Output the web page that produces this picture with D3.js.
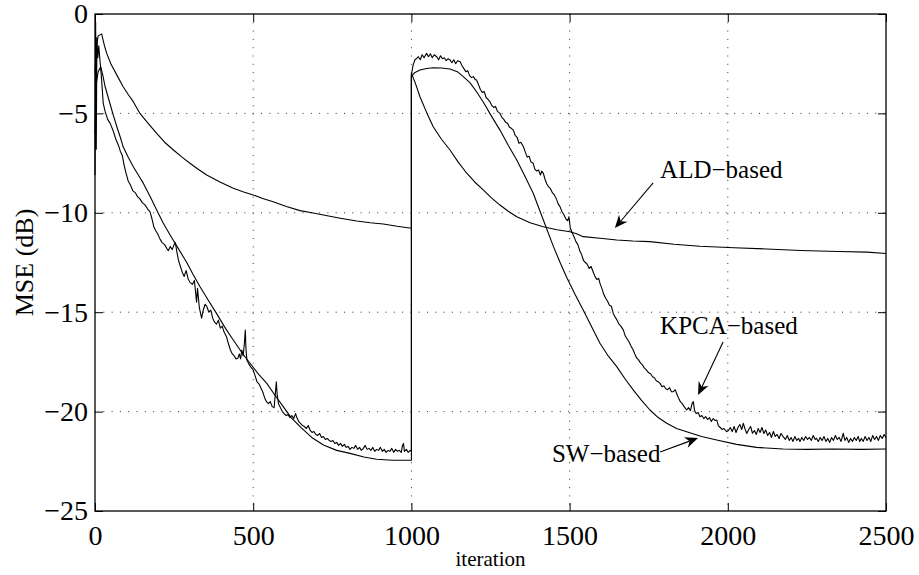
<!DOCTYPE html>
<html><head><meta charset="utf-8">
<script src="https://cdn.jsdelivr.net/npm/d3@7"></script>
<style>body{margin:0;background:#fff}svg{display:block}</style>
</head><body>
<svg id="c" width="919" height="575"></svg>
<script>
const xTicks = [0, 500, 1000, 1500, 2000, 2500];
const yTicks = [0, -5, -10, -15, -20, -25];
const xLabel = "iteration";
const yLabel = "MSE (dB)";

const ald = [[0,-3.0],[5,-1.6],[10,-1.1],[21,-1.0],[30,-1.6],[37,-1.98],[50,-2.5],[70,-3.1],[89,-3.66],[105,-4.05],[121,-4.41],[142,-5.0],[168,-5.5],[195,-6.0],[220,-6.45],[248,-6.84],[275,-7.2],[300,-7.51],[325,-7.8],[353,-8.1],[395,-8.45],[437,-8.77],[470,-8.95],[500,-9.1],[530,-9.28],[563,-9.44],[605,-9.68],[648,-9.89],[685,-10.0],[722,-10.11],[775,-10.27],[827,-10.41],[870,-10.5],[911,-10.56],[955,-10.68],[1000,-10.78],
[1000,-2.98],[1013,-3.5],[1027,-4.16],[1048,-4.95],[1069,-5.67],[1095,-6.3],[1122,-6.84],[1148,-7.45],[1175,-8.01],[1200,-8.45],[1227,-8.85],[1253,-9.25],[1280,-9.61],[1306,-9.92],[1333,-10.2],[1375,-10.5],[1417,-10.7],[1460,-10.85],[1501,-10.95],[1522,-11.05],[1543,-11.2],[1596,-11.28],[1649,-11.37],[1700,-11.42],[1754,-11.45],[1830,-11.58],[1912,-11.68],[2020,-11.76],[2123,-11.82],[2230,-11.9],[2350,-11.95],[2440,-11.98],[2500,-12.05]];

const sw = [[0,-6.0],[4,-3.5],[10,-2.9],[18,-2.65],[25,-3.1],[32,-3.66],[40,-4.1],[47,-4.49],[58,-5.1],[69,-5.67],[80,-6.2],[89,-6.68],[105,-7.2],[121,-7.68],[137,-8.1],[153,-8.52],[175,-9.2],[195,-9.86],[215,-10.5],[237,-11.1],[263,-11.79],[290,-12.5],[310,-13.1],[332,-13.72],[358,-14.4],[384,-15.06],[410,-15.75],[437,-16.4],[463,-17.0],[490,-17.57],[516,-18.1],[543,-18.58],[570,-19.2],[595,-19.75],[620,-20.3],[648,-20.76],[685,-21.3],[722,-21.68],[764,-21.95],[806,-22.1],[850,-22.28],[890,-22.4],[940,-22.45],[1000,-22.45],
[1000,-3.15],[1010,-2.95],[1027,-2.82],[1048,-2.74],[1069,-2.7],[1095,-2.72],[1122,-2.77],[1145,-2.9],[1164,-3.15],[1185,-3.45],[1206,-3.91],[1228,-4.45],[1248,-5.0],[1265,-5.45],[1280,-5.84],[1306,-6.6],[1333,-7.34],[1360,-8.2],[1385,-9.02],[1417,-10.36],[1449,-11.7],[1470,-12.5],[1491,-13.25],[1517,-14.1],[1543,-14.89],[1570,-15.75],[1596,-16.56],[1622,-17.2],[1649,-17.74],[1675,-18.35],[1701,-18.91],[1728,-19.45],[1754,-19.92],[1780,-20.3],[1807,-20.59],[1838,-20.85],[1870,-21.01],[1917,-21.25],[1965,-21.43],[2028,-21.65],[2091,-21.8],[2175,-21.88],[2250,-21.9],[2333,-21.88],[2420,-21.9],[2500,-21.88]];

const kpca = [[0,-8.1],[2,-0.4],[4,-6.8],[6,-1.2],[9,-2.2],[12,-1.6],[16,-2.4],[20,-3.1],[26,-4.5],[32,-4.9],[40,-5.3],[48,-5.5],[58,-5.9],[66,-6.3],[74,-6.6],[80,-6.9],[86,-7.1],[92,-7.6],[98,-8.0],[105,-8.4],[112,-8.6],[120,-8.9],[128,-9.0],[135,-9.2],[142,-9.3],[150,-9.5],[158,-9.6],[166,-9.8],[174,-9.95],[180,-10.3],[186,-10.7],[192,-10.9],[198,-11.05],[205,-11.3],[212,-11.5],[220,-11.6],[227,-11.8],[232,-11.9],[238,-11.7],[244,-11.85],[250,-11.6],[254,-11.5],[258,-11.9],[264,-12.4],[270,-12.7],[276,-13.0],[282,-13.2],[288,-12.9],[294,-13.3],[300,-13.5],[308,-13.6],[314,-13.4],[318,-14.0],[321,-14.5],[324,-13.8],[330,-14.8],[337,-15.3],[342,-14.9],[348,-14.6],[353,-14.7],[360,-15.0],[366,-14.9],[372,-15.3],[378,-15.5],[384,-15.6],[390,-15.4],[396,-15.8],[402,-15.7],[408,-16.0],[416,-16.25],[422,-16.6],[428,-16.9],[434,-17.1],[440,-17.2],[446,-17.35],[452,-17.3],[456,-17.1],[460,-17.35],[464,-16.9],[468,-17.2],[472,-16.6],[475,-15.9],[477,-16.8],[480,-17.4],[486,-17.6],[492,-17.75],[500,-17.9],[506,-18.2],[512,-18.5],[518,-18.6],[524,-18.8],[530,-19.0],[536,-19.3],[542,-19.5],[548,-19.6],[554,-19.5],[560,-19.75],[566,-19.8],[570,-19.1],[573,-18.5],[576,-19.2],[580,-19.6],[586,-19.8],[592,-20.0],[598,-20.1],[604,-20.2],[610,-20.15],[616,-20.3],[622,-20.2],[628,-20.35],[634,-20.1],[638,-20.3],[644,-20.5],[650,-20.6],[656,-20.7],[662,-20.75],[668,-20.85],[674,-20.7],[680,-20.95],[686,-21.05],[692,-21.0],[698,-21.15],[704,-21.2],[710,-21.1],[716,-21.3],[722,-21.25],[728,-21.4],[734,-21.35],[740,-21.45],[746,-21.5],[752,-21.45],[758,-21.6],[764,-21.55],[770,-21.7],[776,-21.6],[782,-21.75],[788,-21.65],[794,-21.8],[800,-21.75],[806,-21.9],[812,-21.8],[818,-21.85],[824,-21.7],[830,-21.9],[836,-21.8],[842,-21.95],[848,-21.85],[854,-21.7],[860,-21.9],[866,-21.85],[872,-21.95],[878,-21.8],[884,-22.0],[890,-21.9],[896,-21.95],[902,-21.8],[908,-22.0],[914,-21.9],[920,-22.05],[926,-21.95],[932,-22.0],[938,-21.85],[944,-22.05],[950,-21.9],[956,-22.0],[962,-21.95],[968,-22.05],[972,-21.7],[975,-21.6],[978,-22.0],[984,-21.9],[990,-22.05],[996,-21.95],[1000,-22.0],
[1000,-3.07],[1005,-2.6],[1011,-2.3],[1016,-2.25],[1022,-2.15],[1028,-2.3],[1034,-2.05],[1040,-2.2],[1048,-1.98],[1054,-2.15],[1060,-2.0],[1066,-2.2],[1072,-2.05],[1080,-2.15],[1086,-2.3],[1092,-2.1],[1098,-2.25],[1104,-2.2],[1110,-2.35],[1116,-2.25],[1122,-2.31],[1128,-2.45],[1134,-2.3],[1140,-2.5],[1146,-2.35],[1154,-2.4],[1160,-2.6],[1166,-2.75],[1172,-2.9],[1178,-2.85],[1184,-3.1],[1190,-3.2],[1196,-3.15],[1202,-3.3],[1206,-3.32],[1212,-3.55],[1218,-3.8],[1224,-3.95],[1230,-3.9],[1236,-4.2],[1242,-4.3],[1248,-4.41],[1254,-4.6],[1260,-4.7],[1266,-4.65],[1272,-4.9],[1280,-5.0],[1286,-5.2],[1292,-5.3],[1298,-5.45],[1304,-5.5],[1310,-5.7],[1316,-5.75],[1322,-5.84],[1328,-6.1],[1334,-6.2],[1340,-6.5],[1346,-6.45],[1354,-6.68],[1360,-6.95],[1366,-7.2],[1372,-7.15],[1378,-7.45],[1385,-7.51],[1390,-7.8],[1396,-7.9],[1402,-7.85],[1408,-8.1],[1412,-7.9],[1417,-8.01],[1422,-8.3],[1428,-8.55],[1434,-8.7],[1440,-8.8],[1446,-9.0],[1452,-9.1],[1458,-9.3],[1464,-9.55],[1470,-9.7],[1476,-9.95],[1482,-10.1],[1488,-10.3],[1494,-10.4],[1498,-10.2],[1502,-10.75],[1508,-11.0],[1514,-11.2],[1520,-11.45],[1526,-11.6],[1533,-11.95],[1538,-12.1],[1544,-12.4],[1550,-12.5],[1556,-12.6],[1562,-12.8],[1568,-12.7],[1574,-12.95],[1580,-13.2],[1586,-13.35],[1592,-13.3],[1596,-13.55],[1602,-13.8],[1608,-14.1],[1614,-14.3],[1620,-14.45],[1626,-14.65],[1632,-14.7],[1638,-15.06],[1644,-15.25],[1650,-15.4],[1656,-15.6],[1662,-15.7],[1670,-15.9],[1676,-16.2],[1682,-16.35],[1688,-16.5],[1694,-16.7],[1701,-16.9],[1706,-17.1],[1712,-17.3],[1718,-17.4],[1724,-17.55],[1730,-17.65],[1736,-17.8],[1743,-17.91],[1750,-18.05],[1756,-18.1],[1762,-18.25],[1768,-18.3],[1774,-18.45],[1780,-18.5],[1786,-18.58],[1792,-18.75],[1798,-18.7],[1804,-18.85],[1810,-18.9],[1816,-18.8],[1822,-19.0],[1828,-19.0],[1834,-18.9],[1838,-19.08],[1844,-19.3],[1850,-19.5],[1856,-19.6],[1862,-19.75],[1870,-19.92],[1876,-19.8],[1882,-19.95],[1887,-19.6],[1891,-19.5],[1895,-19.95],[1900,-20.1],[1906,-20.05],[1912,-20.26],[1918,-20.2],[1924,-20.35],[1930,-20.25],[1936,-20.4],[1942,-20.3],[1948,-20.5],[1954,-20.35],[1960,-20.45],[1965,-20.42],[1970,-20.7],[1976,-20.8],[1982,-20.9],[1988,-20.85],[1996,-21.01],[2002,-20.95],[2008,-20.8],[2014,-21.0],[2020,-20.75],[2026,-21.05],[2032,-20.8],[2038,-20.65],[2044,-20.9],[2049,-20.59],[2054,-20.85],[2060,-21.1],[2066,-20.9],[2072,-20.75],[2078,-21.09],[2084,-20.95],[2090,-21.15],[2096,-20.85],[2102,-21.05],[2108,-20.8],[2114,-21.1],[2120,-20.93],[2126,-21.2],[2132,-21.05],[2138,-21.3],[2144,-21.0],[2150,-21.25],[2156,-21.15],[2162,-21.35],[2168,-21.1],[2175,-21.26],[2182,-21.4],[2188,-21.2],[2194,-21.45],[2200,-21.3],[2206,-21.5],[2212,-21.25],[2218,-21.45],[2224,-21.35],[2228,-21.51],[2234,-21.3],[2240,-21.45],[2246,-21.25],[2252,-21.4],[2258,-21.3],[2264,-21.45],[2270,-21.2],[2276,-21.4],[2280,-21.34],[2286,-21.5],[2292,-21.3],[2298,-21.45],[2304,-21.25],[2310,-21.5],[2316,-21.35],[2322,-21.55],[2328,-21.3],[2334,-21.45],[2340,-21.2],[2346,-21.4],[2352,-21.3],[2358,-21.5],[2365,-21.09],[2370,-21.45],[2376,-21.3],[2382,-21.55],[2388,-21.35],[2394,-21.5],[2400,-21.3],[2406,-21.45],[2412,-21.25],[2417,-21.51],[2422,-21.35],[2428,-21.5],[2434,-21.25],[2440,-21.45],[2446,-21.3],[2452,-21.5],[2458,-21.2],[2464,-21.4],[2470,-21.25],[2476,-21.45],[2482,-21.2],[2488,-21.35],[2494,-21.15],[2500,-21.3]];

// annotations: label, text anchor point [iter, dB], arrow tail, arrow tip
const annLabels = ["ALD\u2212based", "KPCA\u2212based", "SW\u2212based"];
const annText = [[1786,-8.25],[1786,-16.1],[1444,-22.54]];
const annTail = [[1764,-8.5],[1985,-16.5],[1786,-22.03]];
const annTip = [[1643,-10.77],[1906,-19.17],[1906,-21.33]];

const L = 95, R = 886, T = 14, B = 511;
const svg = d3.select("#c");
const x = d3.scaleLinear().domain([0, 2500]).range([L, R]);
const y = d3.scaleLinear().domain([-25, 0]).range([B, T]);
const font = "'Liberation Serif','Times New Roman',serif";

// grid
const g = svg.append("g");
g.selectAll(".vg").data(xTicks.slice(1, -1)).enter().append("line")
  .attr("x1", d => x(d)).attr("x2", d => x(d)).attr("y1", T).attr("y2", B)
  .attr("stroke", "#333").attr("stroke-width", 1).attr("stroke-dasharray", "1,7.3");
g.selectAll(".hg").data(yTicks.slice(1, -1)).enter().append("line")
  .attr("y1", d => y(d)).attr("y2", d => y(d)).attr("x1", L).attr("x2", R)
  .attr("stroke", "#333").attr("stroke-width", 1).attr("stroke-dasharray", "1,7.3");

// axes
const xAxB = d3.axisBottom(x).tickValues(xTicks).tickSize(-8).tickPadding(14).tickFormat(d3.format("d"));
const xAxT = d3.axisTop(x).tickValues(xTicks).tickSize(-8).tickFormat("");
const yAxL = d3.axisLeft(y).tickValues(yTicks).tickSize(-8).tickPadding(7).tickFormat(d => d < 0 ? "\u2212" + Math.abs(d) : d);
const yAxR = d3.axisRight(y).tickValues(yTicks).tickSize(-8).tickFormat("");
function style(sel) {
  sel.selectAll(".domain").remove();
  sel.selectAll(".tick line").attr("stroke", "#000").attr("stroke-width", 1);
  sel.selectAll("text").attr("font-family", font).attr("font-size", 28).attr("fill", "#000");
}
svg.append("g").attr("transform", `translate(0,${B})`).call(xAxB).call(style);
svg.append("g").attr("transform", `translate(0,${T})`).call(xAxT).call(style);
svg.append("g").attr("transform", `translate(${L},0)`).call(yAxL).call(style);
svg.append("g").attr("transform", `translate(${R},0)`).call(yAxR).call(style);

// series
const line = d3.line().x(d => x(d[0])).y(d => y(d[1]));
[ald, sw, kpca].forEach(s => {
  svg.append("path").datum(s).attr("d", line).attr("fill", "none")
    .attr("stroke", "#000").attr("stroke-width", 1.1).attr("stroke-linejoin", "round");
});

// frame
svg.append("rect").attr("x", L).attr("y", T).attr("width", R - L).attr("height", B - T)
  .attr("fill", "none").attr("stroke", "#000").attr("stroke-width", 1.3);

// axis labels
svg.append("text").attr("x", (L + R) / 2).attr("y", 566).attr("text-anchor", "middle")
  .attr("font-family", font).attr("font-size", 21).text(xLabel);
svg.append("text").attr("transform", `translate(33,${(T + B) / 2}) rotate(-90)`).attr("text-anchor", "middle")
  .attr("font-family", font).attr("font-size", 26).text(yLabel);

// annotations
annLabels.forEach((lab, i) => {
  svg.append("text").attr("x", x(annText[i][0])).attr("y", y(annText[i][1]))
    .attr("font-family", font).attr("font-size", 25).text(lab);
  const x0 = x(annTail[i][0]), y0 = y(annTail[i][1]);
  const x1 = x(annTip[i][0]), y1 = y(annTip[i][1]);
  const ang = Math.atan2(y1 - y0, x1 - x0);
  const hl = 13, hw = 5.5, back = 9;
  const bx = x1 - hl * Math.cos(ang), by = y1 - hl * Math.sin(ang);
  const nx = x1 - back * Math.cos(ang), ny = y1 - back * Math.sin(ang);
  const px = -Math.sin(ang), py = Math.cos(ang);
  svg.append("line").attr("x1", x0).attr("y1", y0).attr("x2", nx).attr("y2", ny)
    .attr("stroke", "#000").attr("stroke-width", 1.1);
  svg.append("path").attr("d", `M${x1},${y1}L${bx + px * hw},${by + py * hw}L${nx},${ny}L${bx - px * hw},${by - py * hw}Z`)
    .attr("fill", "#000");
});
</script>
</body></html>
